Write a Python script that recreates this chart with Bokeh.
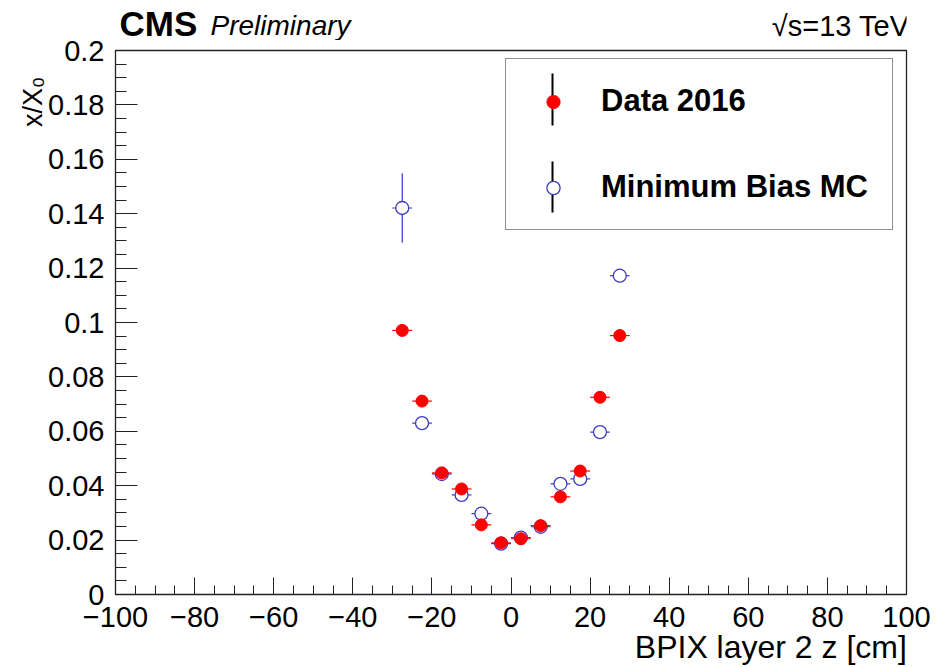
import numpy as np
from bokeh.plotting import figure
from bokeh.layouts import column
from bokeh.models import (ColumnDataSource, FixedTicker, Label, Legend, LegendItem,
                          Arrow, Range1d, LinearAxis)
from bokeh.embed import file_html
from bokeh.resources import INLINE

# ---- data -------------------------------------------------------------
z_centers = [-27.5, -22.5, -17.5, -12.5, -7.5, -2.5, 2.5, 7.5, 12.5, 17.5, 22.5, 27.5]
z_halfwidth = [2.5, 2.5, 2.5, 2.5, 2.5, 2.5, 2.5, 2.5, 2.5, 2.5, 2.5, 2.5]

data_vals = [0.0971, 0.0711, 0.0447, 0.0388, 0.0256, 0.0190,
             0.0205, 0.0253, 0.0359, 0.0454, 0.0725, 0.0952]
data_errs = [0.0010, 0.0008, 0.0006, 0.0006, 0.0005, 0.0004,
             0.0004, 0.0005, 0.0006, 0.0006, 0.0008, 0.0010]

mc_vals = [0.1421, 0.0630, 0.0443, 0.0366, 0.0297, 0.0187,
           0.0209, 0.0249, 0.0407, 0.0425, 0.0597, 0.1172]
mc_errs = [0.0128, 0.0015, 0.0010, 0.0010, 0.0008, 0.0006,
           0.0006, 0.0008, 0.0010, 0.0010, 0.0015, 0.0020]

x_major_ticks = [-100, -80, -60, -40, -20, 0, 20, 40, 60, 80, 100]
x_tick_labels = ["\u2212100", "\u221280", "\u221260", "\u221240", "\u221220", "0",
                 "20", "40", "60", "80", "100"]
y_major_ticks = [0.0, 0.02, 0.04, 0.06, 0.08, 0.1, 0.12, 0.14, 0.16, 0.18, 0.2]
y_tick_labels = ["0", "0.02", "0.04", "0.06", "0.08", "0.1", "0.12", "0.14",
                 "0.16", "0.18", "0.2"]

x_title = "BPIX layer 2 z [cm]"
y_title = "x/X\u2080"
series_names = ["Data 2016", "Minimum Bias MC"]

# where the (right/top aligned) axis titles are centred, in axis units
x_title_at = 65.7
y_title_at = 0.1903

FONT = "Liberation Sans"
RED = "#ff0000"
BLUE = "#3b3bc4"
TOP_H = 40

# ---- sources -------------------------------------------------------------
def make_source(vals, errs):
    x = np.array(z_centers)
    hw = np.array(z_halfwidth)
    y = np.array(vals)
    e = np.array(errs)
    return ColumnDataSource(dict(x=x, y=y, x0=x - hw, x1=x + hw, y0=y - e, y1=y + e))

src_data = make_source(data_vals, data_errs)
src_mc = make_source(mc_vals, mc_errs)

# ---- header strip --------------------------------------------------------
top = figure(width=937, height=TOP_H, x_range=Range1d(0, 937), y_range=Range1d(0, TOP_H),
             output_backend="svg", toolbar_location=None,
             x_axis_location=None, y_axis_location=None,
             min_border_left=113, min_border_right=31, min_border_top=0, min_border_bottom=0)
top.grid.visible = False
top.outline_line_color = None
top.background_fill_color = "white"
top.border_fill_color = "white"

def head_label(text, x, y, size, style="normal", align="left"):
    top.add_layout(Label(x=x, y=y, x_units="screen", y_units="screen", text=text,
                         text_font=FONT, text_font_size=size, text_font_style=style,
                         text_align=align, text_baseline="middle", text_color="black"))

head_label("CMS", 4, 17.1, "35px", style="bold")
head_label("Preliminary", 95, 14.7, "28px", style="italic")
head_label("\u221As=13 TeV", 794, 15, "29px", align="right")

# ---- main figure ---------------------------------------------------------
p = figure(width=937, height=667 - TOP_H, x_range=Range1d(-100, 100), y_range=Range1d(0, 0.2),
           output_backend="svg", toolbar_location=None,
           min_border_left=113, min_border_right=31, min_border_top=50 - TOP_H,
           min_border_bottom=71)
p.xgrid.visible = False
p.ygrid.visible = False
p.background_fill_color = "white"
p.border_fill_color = "white"
p.outline_line_color = "#222222"
p.outline_line_width = 1.3

p.xaxis.ticker = FixedTicker(ticks=x_major_ticks,
                             minor_ticks=list(np.arange(-100, 100.1, 5)))
p.yaxis.ticker = FixedTicker(ticks=y_major_ticks,
                             minor_ticks=list(np.round(np.arange(0, 0.2001, 0.005), 3)))
p.xaxis.major_label_overrides = {t: l for t, l in zip(x_major_ticks, x_tick_labels)}
p.yaxis.major_label_overrides = {t: l for t, l in zip(y_major_ticks, y_tick_labels)}

for ax in (p.xaxis[0], p.yaxis[0]):
    ax.major_tick_out = 0
    ax.minor_tick_out = 0
    ax.axis_line_color = "#222222"
    ax.major_tick_line_color = "#222222"
    ax.minor_tick_line_color = "#222222"
    ax.major_label_text_font = FONT
    ax.major_label_text_font_size = "29px"
    ax.major_label_text_color = "black"

p.xaxis.major_tick_in = 17
p.xaxis.minor_tick_in = 9
p.yaxis.major_tick_in = 22
p.yaxis.minor_tick_in = 11
p.xaxis.major_label_standoff = 12
p.yaxis.major_label_standoff = 11

# secondary axes whose single (tick-less) label is the axis title
def title_axis(label, at, size, standoff, orientation):
    return LinearAxis(ticker=FixedTicker(ticks=[at]), major_label_overrides={at: label},
                      axis_line_color=None, major_tick_in=0, major_tick_out=0,
                      minor_tick_in=0, minor_tick_out=0, major_tick_line_color=None,
                      minor_tick_line_color=None, major_label_standoff=standoff,
                      major_label_orientation=orientation,
                      major_label_text_font=FONT, major_label_text_font_size=size,
                      major_label_text_font_style="normal", major_label_text_color="black")

p.add_layout(title_axis(x_title, x_title_at, "32px", -1, "horizontal"), "below")
p.add_layout(title_axis(y_title, y_title_at, "27px", 12, np.pi / 2), "left")

# ---- marks ---------------------------------------------------------------
p.segment(x0="x0", x1="x1", y0="y", y1="y", source=src_mc, line_color=BLUE, line_width=1.2)
p.segment(x0="x", x1="x", y0="y0", y1="y1", source=src_mc, line_color=BLUE, line_width=1.2)
r_mc = p.scatter(x="x", y="y", source=src_mc, marker="circle", size=13,
                 fill_color="white", line_color=BLUE, line_width=1.3)

p.segment(x0="x0", x1="x1", y0="y", y1="y", source=src_data, line_color=RED, line_width=1.2)
p.segment(x0="x", x1="x", y0="y0", y1="y1", source=src_data, line_color=RED, line_width=1.2)
r_data = p.scatter(x="x", y="y", source=src_data, marker="circle", size=12,
                   fill_color=RED, line_color=RED, line_width=1)

# ---- legend (black vertical bars drawn beneath legend glyphs) -------------
for (ys, ye) in ((521, 469), (433, 382)):
    p.add_layout(Arrow(start=None, end=None, x_start=437, y_start=ys, x_end=437, y_end=ye,
                       start_units="screen", end_units="screen",
                       line_color="black", line_width=2))

legend = Legend(items=[LegendItem(label=series_names[0], renderers=[r_data]),
                       LegendItem(label=series_names[1], renderers=[r_mc])],
                location=(390, 364), orientation="vertical", margin=0,
                padding=24, spacing=50, glyph_width=46, glyph_height=33,
                label_height=33, label_standoff=25,
                label_text_font=FONT, label_text_font_style="bold",
                label_text_font_size="31px", label_text_color="black",
                border_line_color="#222222", border_line_width=1.5,
                background_fill_alpha=0)
p.add_layout(legend)

layout = column(top, p, spacing=0)
open("out.html", "w").write(file_html(layout, INLINE))
